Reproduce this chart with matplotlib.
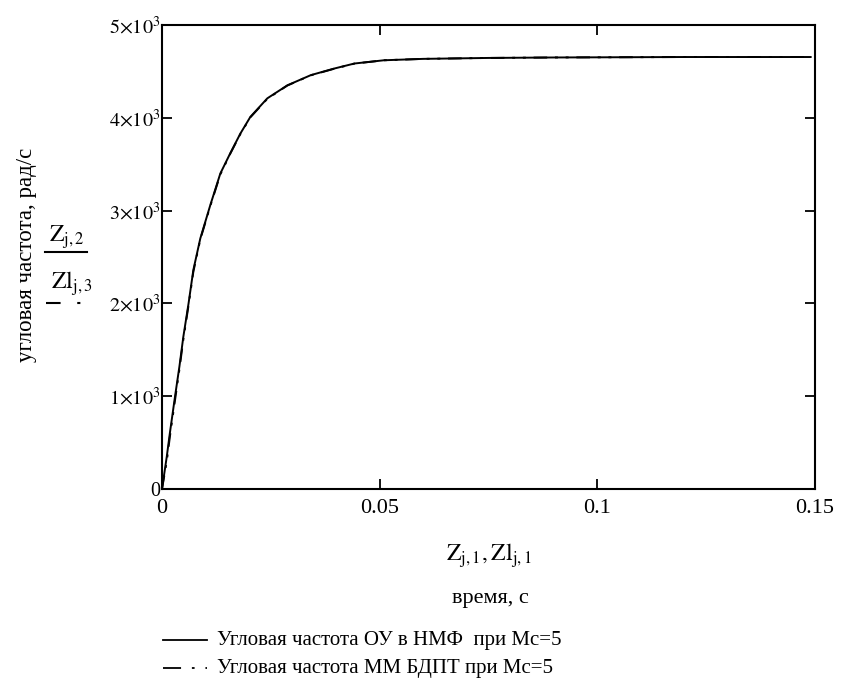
import numpy as np
import matplotlib.pyplot as plt
from matplotlib.lines import Line2D

plt.rcParams['font.family'] = ['Liberation Serif', 'DejaVu Serif']
plt.rcParams['mathtext.fontset'] = 'stix'

# время, с  /  угловая частота, рад/с
t_ou = [0, 0.0011, 0.0018, 0.003, 0.004, 0.0049, 0.0061, 0.0072, 0.0088, 0.0111,
        0.0134, 0.0157, 0.018, 0.0203, 0.0242, 0.0288, 0.0342, 0.0395, 0.0442,
        0.051, 0.06, 0.075, 0.09, 0.12, 0.149]
w_ou = [0, 350, 600, 1000, 1320, 1640, 2000, 2360, 2700, 3060,
        3400, 3620, 3830, 4010, 4210, 4350, 4460, 4530, 4585,
        4620, 4635, 4645, 4650, 4655, 4655]

t_mm = t_ou
w_mm = [0, 300, 560, 960, 1290, 1610, 1980, 2340, 2690, 3050,
        3390, 3615, 3825, 4005, 4205, 4348, 4458, 4528, 4584,
        4620, 4635, 4645, 4650, 4655, 4655]

x_ticks = [0, 0.05, 0.1, 0.15]
x_tick_labels = ["0", "0.05", "0.1", "0.15"]
y_ticks = [0, 1000, 2000, 3000, 4000, 5000]
y_tick_labels = ["0", r"$1{\times}10^{3}$", r"$2{\times}10^{3}$", r"$3{\times}10^{3}$",
                 r"$4{\times}10^{3}$", r"$5{\times}10^{3}$"]

legend_labels = ["Угловая частота ОУ в НМФ  при Мс=5",
                 "Угловая частота ММ БДПТ при Мс=5"]

W, H = 843, 682
fig = plt.figure(figsize=(W / 100, H / 100), dpi=100)
ax = fig.add_axes([162 / W, 1 - 489 / H, (815 - 162) / W, (489 - 25) / H])

dashdot = (0, (7, 4, 1.5, 4, 1.5, 4))
ax.plot(t_ou, w_ou, color='k', lw=1.4)
ax.plot(t_mm, w_mm, color='k', lw=1.4, ls=dashdot)

ax.set_xlim(0, 0.15)
ax.set_ylim(0, 5000)
ax.set_xticks(x_ticks, x_tick_labels)
ax.set_yticks(y_ticks, y_tick_labels)
ax.tick_params(direction='in', top=True, right=True, length=7, width=1.3)
ax.tick_params(axis='y', pad=1, labelsize=14.5)
ax.tick_params(axis='x', pad=7, labelsize=16)
for s in ax.spines.values():
    s.set_linewidth(1.5)

def fx(x):
    return x / W

def fy(y):
    return 1 - y / H

# y-axis label and series names
fig.text(fx(27), fy(255), "угловая частота, рад/с", rotation=90,
         ha='center', va='center', fontsize=16.5)
fig.text(fx(67), fy(237), r"$\mathrm{Z_{j,2}}$", ha='center', va='center', fontsize=17)
fig.add_artist(Line2D([fx(45), fx(87)], [fy(252), fy(252)], color='k', lw=1.5))
fig.text(fx(72), fy(284), r"$\mathrm{Zl_{j,3}}$", ha='center', va='center', fontsize=17)
fig.add_artist(Line2D([fx(46), fx(88)], [fy(303), fy(303)], color='k', lw=1.5,
                      ls=(0, (7, 8, 1.5, 8))))

# x-axis label
fig.text(fx(489), fy(556), r"$\mathrm{Z_{j,1},Zl_{j,1}}$", ha='center', va='center',
         fontsize=17)
fig.text(fx(490), fy(598), "время, с", ha='center', va='center', fontsize=16)

# legend
leg_y = [640, 668]
leg_styles = ['-', (0, (10, 6, 1.5, 6, 1.5, 6))]
for yy, st, lab in zip(leg_y, leg_styles, legend_labels):
    fig.add_artist(Line2D([fx(163), fx(207)], [fy(yy), fy(yy)], color='k', lw=1.3, ls=st))
    fig.text(fx(217), fy(yy), lab, ha='left', va='center', fontsize=15)

fig.savefig("out.png", dpi=100)
